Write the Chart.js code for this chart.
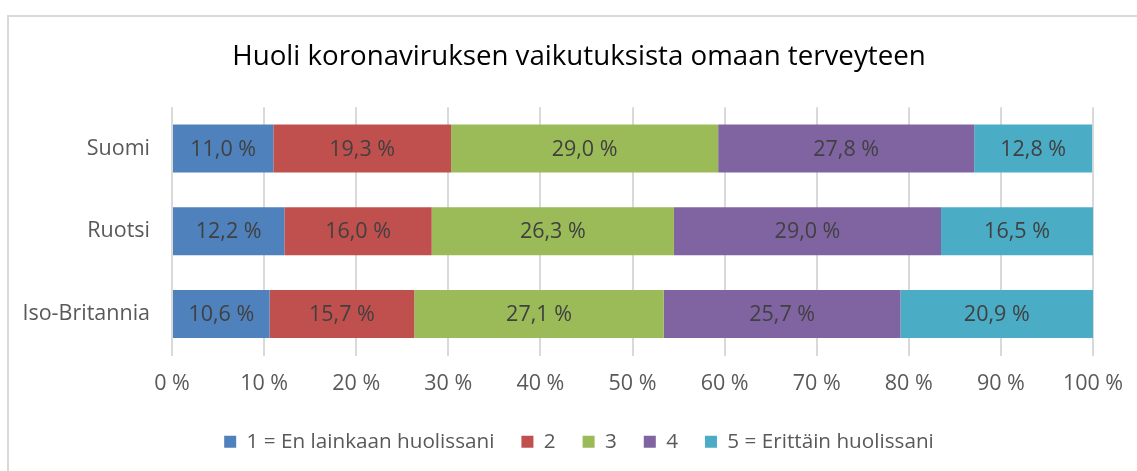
<!DOCTYPE html>
<html>
<head>
<meta charset="utf-8">
<script src="https://cdn.jsdelivr.net/npm/chart.js@4"></script>
<style>
  html, body { margin: 0; padding: 0; background: #fff; overflow: hidden; }
  #wrap { position: relative; width: 1137px; height: 471px; }
  #frame { position: absolute; left: 7px; top: 15px; width: 1300px; height: 600px; border: 2px solid #d9d9d9; box-sizing: border-box; }
  #myChart { position: absolute; left: 0; top: 0; }
</style>
</head>
<body>
<div id="wrap">
  <div id="frame"></div>
  <canvas id="myChart" width="1137" height="471"></canvas>
</div>
<script>
// maat
let countries = ['Suomi', 'Ruotsi', 'Iso-Britannia'];

// vastausten osuudet (%)
let level1 = [11.0, 12.2, 10.6];
let level2 = [19.3, 16.0, 15.7];
let level3 = [29.0, 26.3, 27.1];
let level4 = [27.8, 29.0, 25.7];
let level5 = [12.8, 16.5, 20.9];

let seriesNames = ['1 = En lainkaan huolissani', '2', '3', '4', '5 = Erittäin huolissani'];
let colors = ['#4f81bd', '#c0504d', '#9bbb59', '#8064a2', '#4bacc6'];

let xTicks = [0, 10, 20, 30, 40, 50, 60, 70, 80, 90, 100];

let font = '"Open Sans", sans-serif';

function fmt(v) {
    return v.toFixed(1).replace('.', ',') + ' %';
}

// arvot palkkien keskelle
let barLabels = {
    id: 'barLabels',
    afterDatasetsDraw(chart) {
        let ctx = chart.ctx;
        ctx.save();
        ctx.font = '21.5px ' + font;
        ctx.fillStyle = '#404040';
        ctx.textAlign = 'center';
        ctx.textBaseline = 'middle';
        chart.data.datasets.forEach((ds, i) => {
            let meta = chart.getDatasetMeta(i);
            meta.data.forEach((bar, j) => {
                let p = bar.getCenterPoint();
                ctx.fillText(fmt(ds.data[j]), p.x, p.y + 1);
            });
        });
        ctx.restore();
    }
};

let allData = [level1, level2, level3, level4, level5];

let ctx = document.getElementById('myChart');
let myChart = new Chart(ctx, {
    type: 'bar',
    data: {
        labels: countries,
        datasets: allData.map((d, i) => ({
            label: seriesNames[i],
            data: d,
            backgroundColor: colors[i],
            borderWidth: 0,
            categoryPercentage: 1,
            barPercentage: 0.58
        }))
    },
    options: {
        indexAxis: 'y',
        responsive: false,
        animation: false,
        layout: {
            // kuvion kehys jatkuu oikealle yli kuvan reunan
            padding: { left: 0, right: -21, top: 0, bottom: 9 }
        },
        scales: {
            x: {
                stacked: true,
                min: 0,
                max: 100,
                afterBuildTicks(axis) {
                    axis.ticks = xTicks.map(v => ({ value: v }));
                },
                afterFit(axis) {
                    axis.paddingRight = 44;
                    axis.height = axis.height - 7;
                },
                grid: { color: '#d9d9d9', lineWidth: 2, drawTicks: false },
                border: { display: false },
                ticks: {
                    color: '#595959',
                    font: { family: font, size: 21.5 },
                    padding: 15,
                    callback: v => v + ' %'
                }
            },
            y: {
                stacked: true,
                afterFit(axis) {
                    axis.width = 172;
                },
                grid: { display: false },
                border: { display: false },
                ticks: {
                    color: '#595959',
                    font: { family: font, size: 21.5 },
                    padding: 14
                }
            }
        },
        plugins: {
            title: {
                display: true,
                text: 'Huoli koronaviruksen vaikutuksista omaan terveyteen',
                color: '#000000',
                font: { family: font, size: 27.7, weight: 'normal' },
                padding: { top: 40, bottom: 34 }
            },
            legend: {
                position: 'bottom',
                labels: {
                    color: '#595959',
                    font: { family: font, size: 20.7 },
                    boxWidth: 12,
                    boxHeight: 12,
                    padding: 27
                }
            },
            tooltip: { enabled: false }
        }
    },
    plugins: [barLabels]
});
</script>
</body>
</html>
